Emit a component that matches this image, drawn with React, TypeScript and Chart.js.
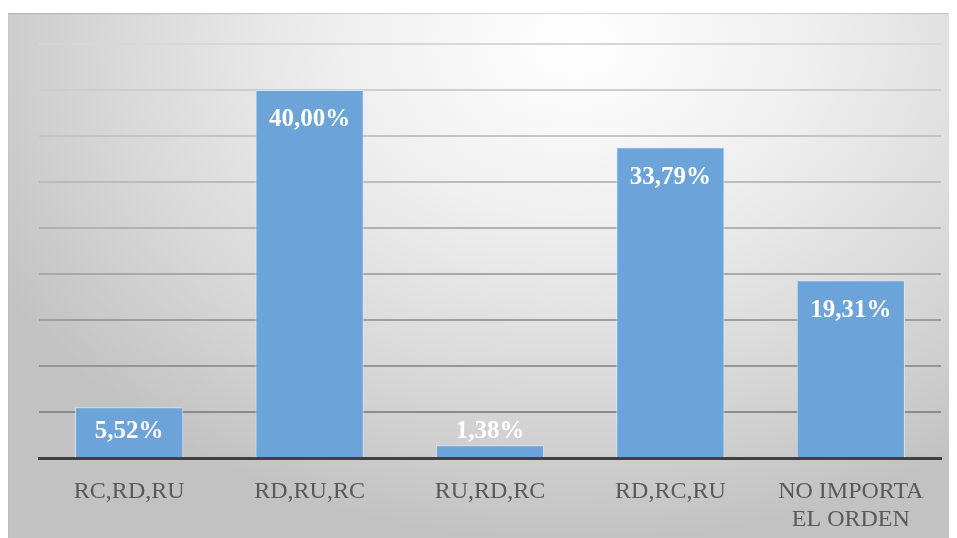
import React, { useEffect, useRef } from "react";
import { Chart, registerables } from "chart.js";

Chart.register(...registerables);

const categories: (string | string[])[] = [
  "RC,RD,RU",
  "RD,RU,RC",
  "RU,RD,RC",
  "RD,RC,RU",
  ["NO IMPORTA", "EL ORDEN"],
];
const percentages = [5.52, 40.0, 1.38, 33.79, 19.31];
const yMax = 45;
const yStep = 5;

const fmt = (v: number) => v.toFixed(2).replace(".", ",") + "%";

const barLabels = {
  id: "barLabels",
  afterDatasetsDraw(chart: any) {
    const { ctx } = chart;
    const meta = chart.getDatasetMeta(0);
    const ds = chart.data.datasets[0];
    ctx.save();
    ctx.font = "bold 25px 'Liberation Serif', 'Times New Roman', serif";
    ctx.fillStyle = "#ffffff";
    ctx.textAlign = "center";
    ctx.textBaseline = "middle";
    meta.data.forEach((bar: any, i: number) => {
      const v = ds.data[i] as number;
      const y = Math.min(bar.y + 30, bar.base - 25);
      ctx.fillText(fmt(v), bar.x, y);
    });
    ctx.restore();
  },
};

export default function App() {
  const ref = useRef<HTMLCanvasElement>(null);

  useEffect(() => {
    if (!ref.current) return;
    const chart = new Chart(ref.current, {
      type: "bar",
      data: {
        labels: categories,
        datasets: [
          {
            data: percentages,
            backgroundColor: "#6ca4d9",
            borderColor: "rgba(215,232,250,0.9)",
            borderWidth: 1,
            barPercentage: 0.6,
            categoryPercentage: 1,
          },
        ],
      },
      options: {
        animation: false,
        responsive: false,
        maintainAspectRatio: false,
        layout: { padding: { left: 31, right: 12, top: 31, bottom: 0 } },
        plugins: {
          legend: { display: false },
          tooltip: { enabled: false },
        },
        scales: {
          x: {
            grid: { display: false, drawTicks: false },
            border: { display: true, color: "#404040", width: 3 },
            ticks: {
              color: "#595959",
              padding: 19,
              maxRotation: 0,
              autoSkip: false,
              font: { family: "'Liberation Serif', 'Times New Roman', serif", size: 24, lineHeight: 1.2 },
            },
            afterFit: (s: any) => {
              s.height = 80;
            },
          },
          y: {
            min: 0,
            max: yMax,
            ticks: { display: false, stepSize: yStep },
            border: { display: false },
            grid: {
              drawTicks: false,
              lineWidth: 2,
              color: (c: any) => {
                const v = c.tick ? c.tick.value : 0;
                if (v === 0) return "rgba(0,0,0,0)";
                const t = v / yMax;
                const g = Math.round(130 + t * 85);
                return `rgb(${g},${g},${g})`;
              },
            },
            afterFit: (s: any) => {
              s.width = 0;
            },
          },
        },
      },
      plugins: [barLabels],
    });
    return () => chart.destroy();
  }, []);

  return (
    <div
      style={{
        marginTop: 5,
        width: 945,
        height: 525,
        background:
          "radial-gradient(ellipse 70% 95% at 60% 6%, #ffffff 0%, #efefef 35%, #d8d8d8 70%, #c2c2c2 100%)",
        boxShadow: "inset 0 1px 1px rgba(0,0,0,0.15)",
      }}
    >
      <canvas ref={ref} width={945} height={525} style={{ display: "block" }} />
    </div>
  );
}
